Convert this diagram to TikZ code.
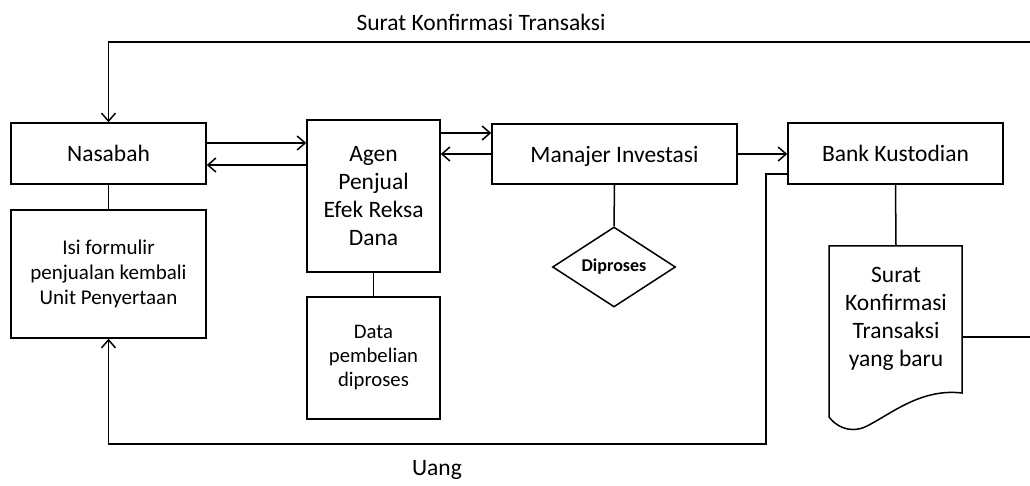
\documentclass[tikz,border=0pt]{standalone}
\usepackage{fontspec}
\setmainfont{Carlito}
\usetikzlibrary{shapes.geometric,arrows.meta}
\begin{document}
\begin{tikzpicture}[x=1pt,y=-1pt,
  line width=1.5pt,
  >={Straight Barb[length=8pt,width=14pt]},
  arr/.style={->},
  box/.style={draw,rectangle,inner sep=0pt,align=center,font=\fontsize{23.5}{28}\selectfont},
  sbox/.style={draw,rectangle,inner sep=0pt,align=center,font=\fontsize{21}{25}\selectfont},
  lbl/.style={inner sep=0pt,font=\fontsize{23.5}{28}\selectfont}]
\useasboundingbox (0,0) rectangle (1030,486);
% nodes
\node[box,minimum width=195pt,minimum height=61pt] (nas) at (108.5,153.5) {Nasabah};
\node[sbox,minimum width=195pt,minimum height=128pt] (isi) at (108.5,274) {Isi formulir\\penjualan kembali\\Unit Penyertaan};
\node[box,minimum width=133pt,minimum height=152pt] (agen) at (373.5,196) {Agen\\Penjual\\Efek Reksa\\Dana};
\node[sbox,minimum width=133pt,minimum height=122pt,font=\fontsize{20.7}{24}\selectfont] (data) at (373.5,358) {Data\\pembelian\\diproses};
\node[box,minimum width=245pt,minimum height=60pt,text depth=0pt] (man) at (614.5,154) {Manajer Investasi};
\node[box,minimum width=215pt,minimum height=61pt,text depth=0pt] (bank) at (895.5,153.5) {Bank Kustodian};
\node[draw,diamond,aspect=1.54,minimum width=123pt,minimum height=80pt,inner sep=0pt,font=\fontsize{18}{20}\selectfont\bfseries] (dia) at (614,267) {Diproses};
% document shape
\coordinate (doctop) at (896,246);
\draw (829,246) -- (962,246) -- (962,393)
  .. controls (920,388) and (890,415) .. (865,427)
  .. controls (848,434) and (835,425) .. (829,417) -- cycle;
\node[lbl,align=center] (doc) at (896,319) {Surat\\Konfirmasi\\Transaksi\\yang baru};
% labels
\node[lbl] (top) at (481,22) {Surat Konfirmasi Transaksi};
\node[lbl] (uang) at (437,470) {Uang};
% helper coordinates
\coordinate (tr) at (1030,42);
\coordinate (tl) at (108.5,42);
\coordinate (docr) at (962,337);
\coordinate (docre) at (1030,337);
\coordinate (a1) at ([yshift=21pt]man.west);
\coordinate (b1) at ([yshift=-20.5pt]bank.west);
\coordinate (c1) at (766,174);
\coordinate (c2) at (766,444);
\coordinate (c3) at (108.5,444);
% connectors
\draw[arr] (tr) -- (tl) -- (nas.north);
\draw (nas.south) -- (isi.north);
\draw[arr] ([yshift=10.5pt]nas.east) -- ([yshift=10.5pt]nas.east -| agen.west);
\draw[arr] ([yshift=-11.5pt]nas.east -| agen.west) -- ([yshift=-11.5pt]nas.east);
\draw (agen.south) -- (data.north);
\draw[arr] (a1 -| agen.east) -- (a1);
\draw[arr] (man.west) -- (man.west -| agen.east);
\draw[arr] (man.east) -- (man.east -| bank.west);
\draw (man.south) -- (dia.north);
\draw (bank.south) -- (doctop);
\draw (docr) -- (docre);
\draw[arr] (b1) -- (c1) -- (c2) -- (c3) -- (isi.south);
\end{tikzpicture}
\end{document}
